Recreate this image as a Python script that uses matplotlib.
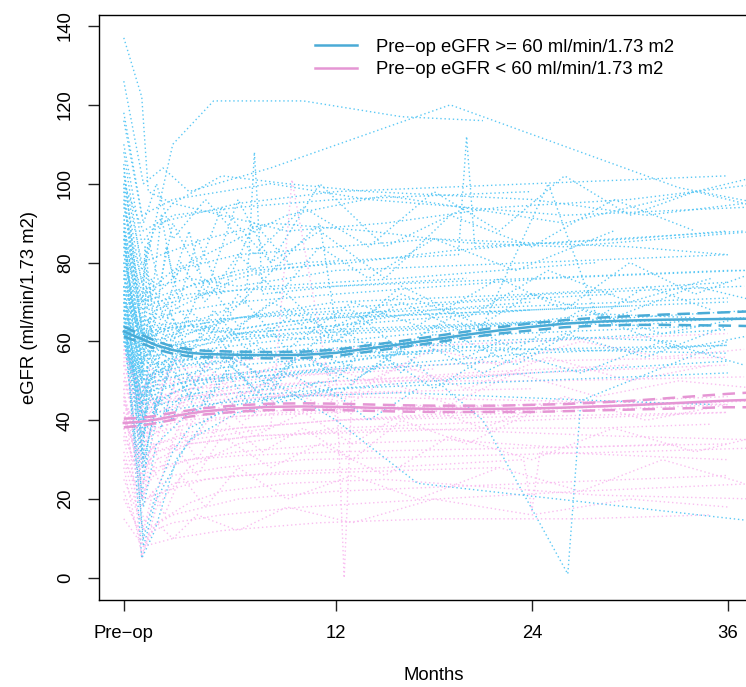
"""eGFR trajectories after surgery, split by pre-op eGFR group."""

import matplotlib
matplotlib.use("Agg")
import matplotlib.pyplot as plt

plt.rcParams["font.family"] = ["Liberation Sans", "DejaVu Sans"]

# months relative to surgery; pre-op visit sits at -1
TICK_POS = [-1, 12, 24, 36]
TICK_LABELS = ["Pre\u2212op", "12", "24", "36"]

# individual trajectories, pre-op eGFR >= 60
hi_times = [
    [-1, 0.1, 1, 3, 6, 12, 24, 36],
    [-1, 0.2, 0.8, 2.5, 6, 11, 23, 35],
    [-1, 0.1, 1.2, 3, 7, 13, 19, 25, 37],
    [-1, 0.3, 1, 4, 8, 12],
    [-1, 0.1, 0.5, 2, 5, 9, 15, 22, 30, 38],
    [-1, 0.2, 1, 3, 6, 12, 18, 24, 36],
    [-1, 0.1, 2, 4.5, 10, 16, 21],
    [-1, 0.2, 1.5, 3, 6, 12, 24, 30, 36],
    [-1, 0.1, 0.6, 2, 5, 8, 14, 20, 27, 33],
    [-1, 0.2, 1, 3, 9, 15, 26, 38],
    [-1, 0.1, 0.9, 2.2, 4, 6],
    [-1, 0.3, 1, 3, 6, 12, 24, 36],
    [-1, 0.1, 1, 2, 5, 12, 17, 22, 28, 34],
    [-1, 0.2, 1.1, 3.5, 7, 10, 13, 18],
    [-1, 0.1, 2, 5, 9, 14, 24, 31, 37],
    [-1, 0.2, 0.7, 1.5, 3, 6, 11, 16, 24, 36],
    [-1, 0.1, 1, 3, 6, 12, 25, 37],
    [-1, 0.1, 0.5, 1.5, 4, 9, 20, 29],
    [-1, 0.3, 1.5, 5, 11, 12, 13, 24],
    [-1, 0.1, 1, 3, 7, 12, 18, 24, 30, 36],
    [-1, 0.2, 1, 2, 4, 6, 8, 12],
    [-1, 0.1, 0.8, 3, 6, 13, 21, 26.2, 27, 36],
    [-1, 0.2, 1, 3, 6, 9, 12, 15],
    [-1, 0.1, 1.3, 4, 8, 14, 20, 26, 32, 38],
    [-1, 0.2, 1, 2.5, 5, 10, 22],
    [-1, 0.1, 0.5, 1, 3, 6, 12, 24, 36],
    [-1, 0.3, 2, 6, 12, 18, 24, 30, 36],
    [-1, 0.1, 1, 3, 6, 12, 18],
    [-1, 0.2, 1.4, 3, 8, 19, 33, 38],
    [-1, 0.1, 0.6, 2, 5, 12, 24, 36],
    [-1, 0.2, 1, 3, 6, 10, 14, 19, 25, 31, 37],
    [-1, 0.1, 1, 4, 9, 16, 22, 28, 35],
    [-1, 0.2, 1.2, 3, 6, 12, 24, 36],
    [-1, 0.1, 2, 4, 6.5, 7, 7.5, 12, 20],
    [-1, 0.2, 1, 2, 3, 6, 12],
    [-1, 0.1, 1, 3, 6, 12, 18, 24, 30, 36, 38.5],
    [-1, 0.3, 1.5, 4, 8, 13, 21, 30, 37],
    [-1, 0.1, 0.8, 2, 6, 12, 24],
    [-1, 0.2, 1, 3, 6, 12, 17, 38.5],
    [-1, 0.1, 1, 3, 6, 12, 24, 36],
    [-1, 0.2, 0.5, 1, 2, 4, 8, 16, 28],
    [-1, 0.1, 1, 2, 3, 5, 7, 9, 11, 13],
    [-1, 0.2, 1, 3, 6, 12, 24, 36],
    [-1, 0.1, 0.7, 2, 5, 10, 20, 30, 38],
    [-1, 0.2, 1, 3, 6, 12, 15, 18, 24],
    [-1, 0.1, 3, 6, 10, 19.5, 20, 20.5, 30, 36],
    [-1, 0.2, 1, 3, 6, 12, 24, 36],
    [-1, 0.1, 2, 8, 14, 26, 37],
    [-1, 0.2, 1, 3, 6, 9, 12, 18, 24, 30],
    [-1, 0.1, 0.4, 0.8, 1.5, 2.5, 4, 6, 9, 12, 16, 20, 25, 30, 35],
    [-1, 0.2, 0.6, 1, 2, 3, 5, 7, 10, 14, 18, 23, 28, 33, 38],
    [-1, 0.1, 0.5, 1.2, 2, 3.5, 5, 8, 11, 15, 19, 24, 29, 34],
    [-1, 0.2, 0.5, 1, 1.8, 3, 4.5, 7, 10, 13, 17, 21, 26, 31, 36],
    [-1, 0.1, 0.3, 0.7, 1.3, 2, 3, 4, 6, 8, 11, 15, 20],
    [-1, 0.2, 0.6, 1.1, 2, 3.2, 5, 7, 9, 12, 15, 18, 22, 27, 32, 37],
    [-1, 0.1, 0.5, 1, 2, 4, 6, 9, 13, 17, 22, 26, 30, 34, 38],
    [-1, 0.2, 1, 2, 3, 4, 6, 8, 10, 12, 14, 16, 18, 20, 22],
    [-1, 0.1, 0.6, 1.5, 3, 5, 8, 12, 16, 21, 25, 28, 31, 35],
    [-1, 0.2, 0.4, 0.9, 1.6, 2.4, 3.5, 5, 7, 9.5],
    [-1, 0.1, 0.8, 1.6, 2.6, 4, 6, 9, 12, 15, 19, 23, 27, 32, 37],
    [-1, 0.2, 0.7, 1.4, 2.5, 4, 6, 8.5, 11, 14, 18, 23, 29],
    [-1, 0.1, 0.5, 1, 2, 3, 4.5, 6.5, 9, 12, 16, 20, 24, 29, 34, 38],
    [-1, 0.2, 1, 2, 4, 7, 10, 14, 18, 22, 26, 30, 34, 38],
    [-1, 0.1, 0.6, 1.3, 2.2, 3.5, 5.5, 8, 11, 14, 17],
]
hi_vals = [
    [92, 55, 60, 63, 62, 66, 68, 70],
    [78, 48, 52, 55, 57, 58, 62, 64],
    [105, 62, 70, 74, 78, 80, 83, 85, 88],
    [66, 38, 44, 46, 48, 50],
    [137, 122, 98, 95, 92, 88, 90, 94, 96, 100],
    [72, 8, 20, 35, 42, 48, 50, 52, 55],
    [100, 75, 110, 121, 121, 117, 116],
    [84, 52, 58, 60, 61, 63, 65, 64, 66],
    [62, 44, 50, 54, 55, 57, 58, 60, 61, 60],
    [96, 60, 72, 80, 92, 97, 90, 102],
    [70, 5, 12, 30, 40, 45],
    [88, 70, 74, 76, 74, 78, 80, 82],
    [68, 50, 52, 55, 57, 60, 62, 64, 67, 66],
    [74, 30, 45, 50, 52, 54, 55, 58],
    [110, 85, 95, 102, 100, 98, 96, 92, 95],
    [64, 40, 46, 48, 50, 52, 54, 57, 60, 63],
    [80, 65, 66, 68, 70, 72, 76, 78],
    [90, 20, 35, 55, 62, 65, 70, 72],
    [76, 56, 60, 65, 90, 64, 66, 68],
    [60, 46, 48, 50, 51, 53, 55, 57, 58, 59],
    [98, 50, 62, 68, 72, 76, 78, 80],
    [86, 54, 60, 64, 66, 68, 40, 1, 45, 60],
    [70, 62, 63, 64, 63, 65, 66, 67],
    [102, 80, 82, 86, 90, 88, 85, 84, 86, 88],
    [66, 26, 40, 46, 48, 52, 55],
    [82, 58, 62, 63, 64, 62, 60, 58, 57],
    [94, 72, 78, 82, 84, 86, 85, 84, 82],
    [72, 44, 50, 52, 54, 56, 57],
    [126, 100, 104, 98, 104, 120, 99, 95],
    [62, 52, 54, 55, 56, 57, 58, 59],
    [78, 60, 62, 64, 66, 68, 69, 70, 72, 73, 74],
    [68, 36, 42, 44, 46, 47, 46, 45, 44],
    [88, 40, 56, 62, 66, 70, 72, 75],
    [74, 60, 64, 66, 70, 108, 72, 74, 76],
    [64, 10, 22, 32, 38, 44, 48],
    [84, 68, 70, 72, 73, 74, 75, 76, 77, 78, 78],
    [70, 50, 55, 58, 60, 62, 64, 65, 66],
    [108, 78, 88, 92, 94, 96, 98],
    [66, 48, 52, 54, 55, 40, 24, 14],
    [76, 62, 64, 65, 66, 67, 69, 71],
    [92, 30, 60, 68, 70, 72, 74, 76, 80],
    [60, 42, 44, 47, 49, 50, 51, 52, 53, 54],
    [100, 88, 90, 92, 95, 98, 100, 102],
    [72, 54, 56, 58, 60, 62, 64, 66, 68],
    [80, 46, 54, 58, 62, 64, 66, 68, 70],
    [86, 70, 74, 78, 80, 82, 112, 84, 86, 88],
    [62, 18, 34, 42, 46, 48, 50, 52],
    [116, 92, 96, 100, 96, 92, 94],
    [68, 56, 58, 60, 62, 63, 64, 66, 68, 69],
    [82, 60, 74, 58, 70, 62, 76, 64, 72, 60, 74, 66, 78, 70, 76],
    [68, 44, 58, 48, 62, 50, 60, 46, 58, 52, 64, 54, 66, 58, 62],
    [95, 70, 86, 74, 90, 78, 94, 80, 88, 76, 92, 84, 96, 88],
    [74, 36, 50, 42, 54, 46, 58, 48, 56, 50, 60, 52, 62, 56, 64],
    [104, 64, 84, 70, 92, 76, 88, 72, 96, 80, 100, 84, 94],
    [62, 40, 52, 44, 56, 46, 54, 42, 52, 46, 56, 48, 58, 52, 60, 54],
    [86, 52, 66, 56, 70, 60, 72, 58, 70, 64, 76, 68, 80, 72, 78],
    [78, 28, 46, 40, 52, 44, 56, 48, 58, 50, 60, 52, 62, 56, 60],
    [70, 54, 64, 56, 68, 60, 70, 62, 72, 64, 100, 66, 74, 68],
    [99, 58, 78, 64, 84, 70, 86, 72, 90, 78],
    [64, 46, 56, 50, 60, 52, 62, 54, 64, 56, 66, 58, 68, 62, 66],
    [88, 62, 76, 66, 80, 70, 82, 72, 84, 76, 86, 78, 88],
    [72, 50, 62, 54, 66, 56, 68, 58, 66, 60, 70, 62, 72, 66, 74, 70],
    [118, 90, 100, 86, 96, 82, 94, 84, 98, 88, 102, 92, 98, 94],
    [66, 32, 48, 38, 52, 42, 54, 44, 50, 40, 48],
]

# individual trajectories, pre-op eGFR < 60
lo_times = [
    [-1, 0.1, 1, 3, 6, 12, 24, 36],
    [-1, 0.2, 1, 3, 6, 12, 18, 24],
    [-1, 0.1, 0.8, 2, 5, 10, 20, 30, 38],
    [-1, 0.2, 1.2, 4, 8, 12, 24],
    [-1, 0.1, 1, 3, 6, 12, 12.5, 13, 20, 30],
    [-1, 0.3, 2, 6, 12, 24, 36],
    [-1, 0.1, 1, 3, 6, 12, 24, 36],
    [-1, 0.2, 1, 3, 7, 14, 21, 28, 35],
    [-1, 0.1, 1, 2, 4, 8, 16],
    [-1, 0.2, 1.5, 4, 9, 15, 23.5, 24, 24.5, 36],
    [-1, 0.1, 1, 3, 6, 12, 24, 36],
    [-1, 0.2, 0.8, 2, 5, 10, 18, 27, 38],
    [-1, 0.1, 1, 3, 6, 12, 24, 30],
    [-1, 0.2, 1, 3, 6, 12, 19, 26, 33],
    [-1, 0.1, 1, 4, 8, 12, 24, 36],
    [-1, 0.3, 1, 2, 6, 14, 22],
    [-1, 0.1, 1, 3, 6, 12, 18, 24, 30, 36],
    [-1, 0.2, 1.4, 3, 7, 13, 25, 37],
    [-1, 0.1, 1, 3, 5, 9, 15, 28, 38],
    [-1, 0.2, 1, 3, 6, 12, 24, 36],
    [-1, 0.1, 0.9, 3, 8, 9.3, 12, 20, 30],
    [-1, 0.2, 1, 3, 6, 12, 24, 36],
    [-1, 0.1, 1, 3, 6, 12, 18],
    [-1, 0.2, 2, 5, 11, 18, 27, 35],
    [-1, 0.1, 1, 3, 6, 12, 24, 36],
    [-1, 0.2, 1, 3, 6, 12, 24, 36],
    [-1, 0.1, 1, 3, 7, 16, 29, 38],
    [-1, 0.2, 1, 2.5, 6, 9, 14, 20, 26, 32, 38],
    [-1, 0.1, 0.5, 1, 2, 3, 5, 7, 10, 13, 17, 21, 26, 31, 36],
    [-1, 0.2, 0.6, 1.2, 2, 3.5, 5, 8, 11, 15, 19, 24, 29, 34, 38],
    [-1, 0.1, 0.4, 0.9, 1.6, 2.6, 4, 6, 9, 12, 16, 20, 25, 30, 35],
    [-1, 0.2, 0.8, 1.5, 2.5, 4, 6, 9, 13, 17, 22, 27, 32, 37],
    [-1, 0.1, 0.5, 1.1, 2, 3, 4.5, 6.5, 9, 12, 15, 19, 23, 28, 33, 38],
    [-1, 0.2, 0.7, 1.4, 2.3, 3.5, 5, 7.5, 10, 13, 16, 20, 24],
    [-1, 0.1, 0.6, 1.3, 2.2, 3.3, 5, 7, 10, 14, 18, 22, 27, 32, 37],
    [-1, 0.2, 1, 2, 3.5, 6, 9, 13, 18, 24, 30, 36],
]
lo_vals = [
    [45, 30, 34, 37, 38, 40, 41, 42],
    [55, 40, 44, 46, 48, 50, 51, 52],
    [35, 18, 22, 26, 28, 30, 31, 32, 33],
    [50, 36, 40, 44, 46, 47, 48],
    [58, 44, 46, 48, 50, 52, 0, 50, 52, 54],
    [25, 12, 16, 20, 22, 24, 26],
    [48, 5, 18, 28, 34, 38, 40, 42],
    [40, 28, 32, 34, 36, 37, 38, 38, 39],
    [52, 32, 40, 43, 45, 46, 47],
    [30, 20, 22, 25, 27, 28, 30, 17, 32, 30],
    [56, 48, 50, 51, 52, 53, 55, 56],
    [20, 10, 12, 14, 16, 18, 20, 22, 24],
    [44, 38, 40, 41, 42, 43, 44, 45],
    [38, 22, 27, 30, 32, 34, 35, 33, 34],
    [59, 50, 52, 54, 56, 58, 60, 62],
    [32, 14, 20, 24, 26, 27, 28],
    [46, 34, 37, 39, 41, 42, 43, 44, 45, 46],
    [54, 42, 46, 48, 49, 50, 50, 51],
    [28, 6, 14, 19, 22, 24, 25, 21, 20],
    [50, 44, 45, 46, 47, 46, 45, 44],
    [42, 26, 32, 35, 38, 101, 40, 42, 44],
    [36, 24, 28, 30, 31, 32, 33, 34],
    [57, 46, 49, 50, 51, 52, 53],
    [15, 8, 10, 12, 14, 15, 15, 16],
    [52, 38, 42, 45, 47, 49, 52, 54],
    [40, 30, 34, 36, 38, 40, 42, 44],
    [48, 20, 30, 34, 36, 38, 36, 35],
    [44, 36, 38, 40, 41, 42, 43, 42, 43, 44, 45],
    [46, 28, 38, 32, 42, 34, 44, 36, 42, 34, 44, 38, 46, 40, 44],
    [38, 20, 30, 24, 34, 26, 36, 28, 34, 26, 36, 30, 38, 32, 36],
    [54, 40, 50, 42, 52, 44, 54, 46, 52, 44, 54, 48, 56, 50, 54],
    [30, 12, 22, 16, 26, 18, 28, 20, 26, 20, 28, 22, 30, 24],
    [50, 34, 44, 36, 48, 38, 50, 40, 48, 42, 50, 44, 52, 46, 50, 48],
    [42, 24, 34, 28, 38, 30, 40, 32, 38, 30, 40, 34, 42],
    [58, 46, 54, 48, 56, 50, 58, 52, 56, 50, 58, 54, 60, 56, 58],
    [22, 8, 14, 10, 16, 12, 18, 14, 20, 16, 20, 18],
]

# fitted group means with 95% bands
fit_t = [-1, 0, 1, 2, 3, 4, 6, 8, 10, 12, 14, 16, 18, 20, 22, 24, 26, 28,
         30, 32, 34, 36, 38.5]
hi_mean = [62.5, 60.8, 59.0, 57.8, 57.1, 56.8, 56.6, 56.5, 56.6, 57.1, 58.2,
           59.3, 60.5, 61.7, 62.8, 63.7, 64.5, 65.0, 65.3, 65.5, 65.6, 65.7, 65.8]
hi_half = [1.2, 1.1, 1.0, 0.9, 0.9, 0.8, 0.8, 0.8, 0.8, 0.8, 0.8, 0.8, 0.8,
           0.8, 0.8, 0.9, 0.9, 1.0, 1.1, 1.3, 1.5, 1.7, 2.0]
lo_mean = [39.3, 39.6, 40.2, 41.0, 41.7, 42.3, 43.0, 43.4, 43.5, 43.4, 43.2,
           43.0, 42.9, 42.9, 42.9, 43.0, 43.2, 43.5, 43.8, 44.2, 44.6, 45.0, 45.3]
lo_half = [1.1, 1.0, 0.9, 0.9, 0.8, 0.8, 0.8, 0.8, 0.8, 0.8, 0.8, 0.8, 0.8,
           0.8, 0.8, 0.9, 0.9, 1.0, 1.1, 1.3, 1.5, 1.7, 2.0]

HI_SPAG, LO_SPAG = "#5ac8f5", "#f9bdf0"
HI_LINE, LO_LINE = "#4aabd6", "#e596d4"
DOT = (0, (1, 2))

fig = plt.figure(figsize=(7.46, 6.87), dpi=100)
ax = fig.add_axes([0.1327, 0.1266, 0.898, 0.8516])

# spaghetti, interleaved so neither group sits entirely on top
n = max(len(hi_times), len(lo_times))
for i in range(n):
    if i < len(lo_times):
        ax.plot(lo_times[i], lo_vals[i], color=LO_SPAG, lw=1.0, ls=DOT)
    if i < len(hi_times):
        ax.plot(hi_times[i], hi_vals[i], color=HI_SPAG, lw=1.0, ls=DOT)

for mean, half, col, lab in [
        (hi_mean, hi_half, HI_LINE, "Pre\u2212op eGFR >= 60 ml/min/1.73 m2"),
        (lo_mean, lo_half, LO_LINE, "Pre\u2212op eGFR < 60 ml/min/1.73 m2")]:
    upper = [m + h for m, h in zip(mean, half)]
    lower = [m - h for m, h in zip(mean, half)]
    ax.plot(fit_t, mean, color=col, lw=1.8, label=lab)
    ax.plot(fit_t, upper, color=col, lw=1.8, ls=(0, (5, 3)))
    ax.plot(fit_t, lower, color=col, lw=1.8, ls=(0, (5, 3)))

ax.set_xlim(-2.52, 38.52)
ax.set_ylim(-5.6, 142.8)
ax.set_xticks(TICK_POS)
ax.set_xticklabels(TICK_LABELS)
ax.set_yticks(range(0, 141, 20))
ax.tick_params(axis="both", labelsize=13.3, length=8, width=1, pad=10,
               colors="#222222", labelcolor="black")
for lbl in ax.get_yticklabels():
    lbl.set_rotation(90)
    lbl.set_va("center")

for side in ax.spines:
    ax.spines[side].set_linewidth(1)
ax.set_xlabel("Months", fontsize=13.3, labelpad=18)
ax.set_ylabel("eGFR (ml/min/1.73 m2)", fontsize=13.3, labelpad=14)

ax.legend(loc="upper left", bbox_to_anchor=(0.297, 0.988), frameon=False,
          fontsize=13.3, handlelength=2.3, handletextpad=1.0, labelspacing=0.3)

fig.savefig("out.png", dpi=100)
